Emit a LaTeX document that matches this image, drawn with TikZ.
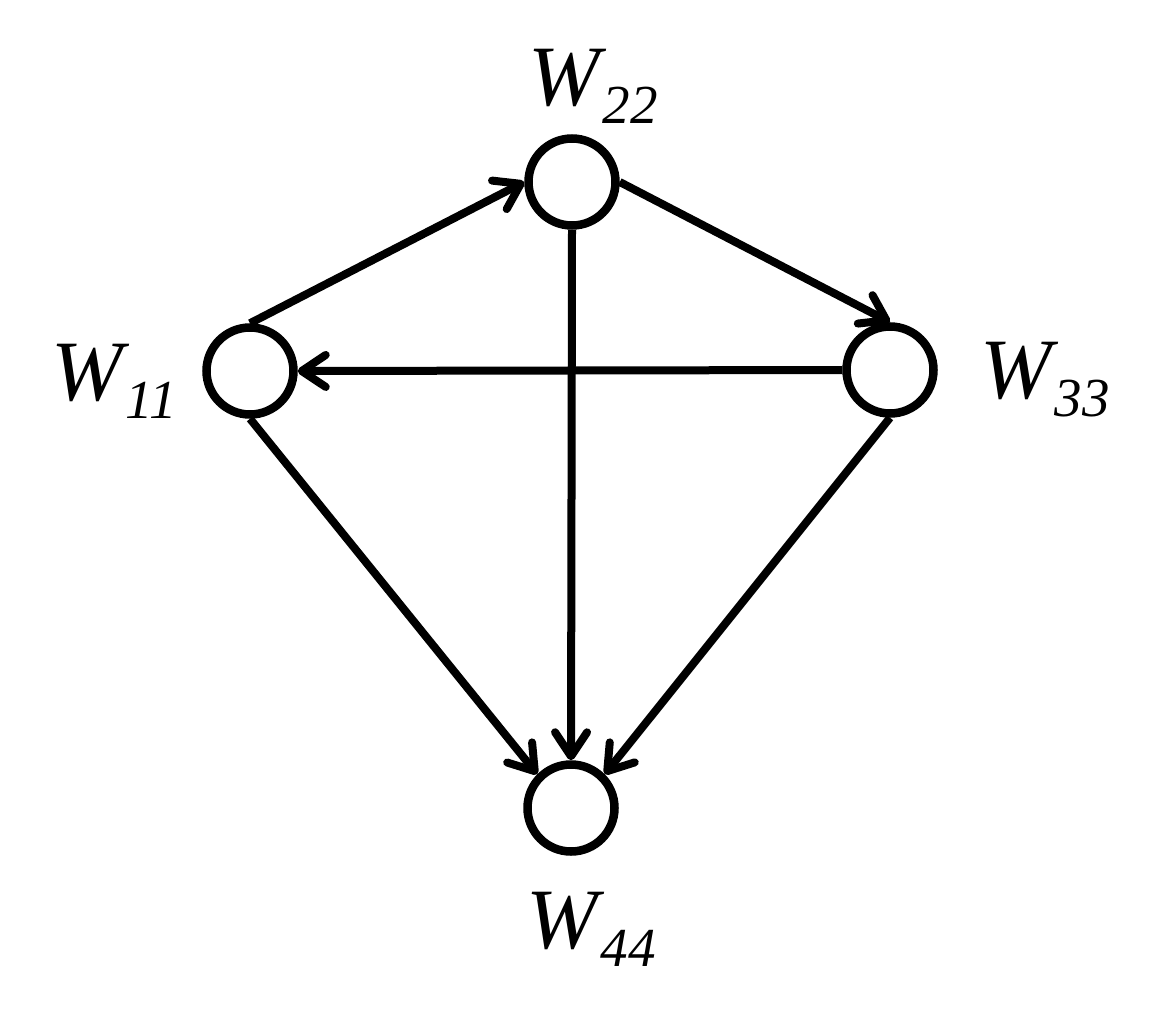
\documentclass[tikz,border=0pt]{standalone}
\usepackage{fontspec}
\setmainfont{Liberation Serif}
\usetikzlibrary{arrows.meta}
\tikzset{
  state/.style={circle, draw, line width=8.5pt, minimum size=87pt, inner sep=0pt},
  edge/.style={line width=8pt, -{Straight Barb[length=24pt, width=32pt, line cap=round, line join=round]}},
  lbl/.style={anchor=base west, inner sep=0pt, outer sep=0pt}
}
\newcommand{\wlab}[1]{{\fontsize{86}{86}\selectfont\itshape W}\kern3pt\raisebox{-18pt}{\fontsize{55}{55}\selectfont\itshape #1}}
\begin{document}
\begin{tikzpicture}[x=1pt, y=-1pt]
\useasboundingbox (0,0) rectangle (1164,1017);
\node[state] (w22) at (572,182) {};
\node[state] (w11) at (250,371) {};
\node[state] (w33) at (890,370) {};
\node[state] (w44) at (571,808) {};
\node[lbl] (l22) at (528,105) {\wlab{22}};
\node[lbl] (l11) at (51,400) {\wlab{11}};
\node[lbl] (l33) at (980,398) {\wlab{33}};
\node[lbl] (l44) at (526,948) {\wlab{44}};
\draw[edge] (w11.north) -- (w22.west);
\draw[edge] (w22.east) -- (w33.north);
\draw[edge] (w33.west) -- (w11.east);
\draw[edge] (w22.south) -- (w44.north);
\draw[edge] (w11.south) -- (w44.135);
\draw[edge] (w33.south) -- (w44.45);
\end{tikzpicture}
\end{document}
